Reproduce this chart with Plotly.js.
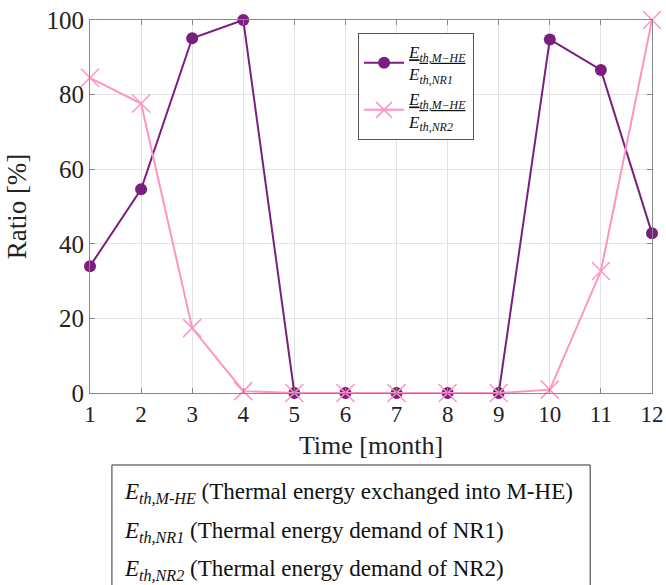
<!DOCTYPE html>
<html>
<head>
<meta charset="utf-8">
<script src="https://cdn.plot.ly/plotly-3.0.1.min.js"></script>
<style>html,body{margin:0;padding:0;background:#fff;}</style>
</head>
<body>
<div id="chart" style="width:666px;height:585px;"></div>
<script>
var months = [1,2,3,4,5,6,7,8,9,10,11,12];
var ratioNR1 = [34.0, 54.6, 95.1, 100, 0, 0, 0, 0, 0, 94.8, 86.6, 42.8];
var ratioNR2 = [84.5, 77.6, 17.4, 0.5, 0, 0, 0, 0, 0, 0.9, 32.7, 100];
var yTicks = [0, 20, 40, 60, 80, 100];
var nameNR1 = '<u><i>E<sub>th,M−HE</sub></i></u><br><i>E<sub>th,NR1</sub></i>';
var nameNR2 = '<u><i>E<sub>th,M−HE</sub></i></u><br><i>E<sub>th,NR2</sub></i>';
var noteLines = [
  '<i>E<sub>th,M-HE</sub></i> (Thermal energy exchanged into M-HE)',
  '<i>E<sub>th,NR1</sub></i> (Thermal energy demand of NR1)',
  '<i>E<sub>th,NR2</sub></i> (Thermal energy demand of NR2)'
];
var font = 'Liberation Serif, Times New Roman, serif';
var traces = [
  {x: months, y: ratioNR1, name: nameNR1, mode: 'lines+markers', type: 'scatter',
   line: {color: '#7b1f7f', width: 2}, marker: {symbol: 'circle', size: 12, color: '#7b1f7f'}, cliponaxis: false},
  {x: months, y: ratioNR2, name: nameNR2, mode: 'lines+markers', type: 'scatter',
   line: {color: '#ff94c4', width: 2}, marker: {symbol: 'x-thin-open', size: 18, line: {color: '#ff94c4', width: 1.5}}, cliponaxis: false}
];
var ann = noteLines.map(function(t, i){
  return {xref: 'paper', yref: 'paper', x: 0.057, y: [-0.268, -0.372, -0.474][i], xanchor: 'left', yanchor: 'middle',
          text: t, showarrow: false, font: {family: font, size: 23, color: '#111'}};
});
var layout = {
  width: 666, height: 585,
  margin: {l: 90, r: 14, t: 20, b: 192},
  paper_bgcolor: '#fff', plot_bgcolor: '#fff',
  font: {family: font, color: '#222'},
  showlegend: true,
  legend: {x: 0.477, y: 0.965, xanchor: 'left', yanchor: 'top', bgcolor: '#fff', bordercolor: '#555', borderwidth: 1,
           font: {family: font, size: 17, color: '#111'}, tracegroupgap: 0, itemwidth: 40},
  xaxis: {range: [1, 12], tickvals: months, ticktext: months.map(String), showgrid: true, gridcolor: '#e3e3e3',
          showline: true, linecolor: '#888', linewidth: 1, mirror: 'ticks', ticks: 'inside', ticklen: 5, tickcolor: '#888',
          zeroline: false, tickfont: {family: font, size: 23, color: '#222'},
          title: {text: 'Time [month]', font: {family: font, size: 26, color: '#222'}, standoff: 10}},
  yaxis: {range: [0, 100], tickvals: yTicks, showgrid: true, gridcolor: '#e3e3e3',
          showline: true, linecolor: '#888', linewidth: 1, mirror: 'ticks', ticks: 'inside', ticklen: 5, tickcolor: '#888',
          zeroline: false, tickfont: {family: font, size: 25, color: '#222'},
          title: {text: 'Ratio [%]', font: {family: font, size: 27, color: '#222'}, standoff: 12}},
  shapes: [{type: 'rect', xref: 'paper', yref: 'paper', x0: 0.039, x1: 0.890, y0: -0.54, y1: -0.193,
            line: {color: '#333', width: 1}, fillcolor: 'rgba(0,0,0,0)'}],
  annotations: ann
};
Plotly.newPlot('chart', traces, layout, {displayModeBar: false, staticPlot: true});
</script>
</body>
</html>
